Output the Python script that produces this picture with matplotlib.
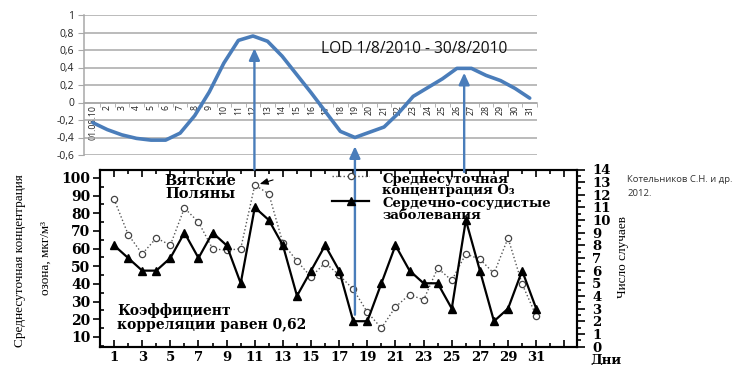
import matplotlib.pyplot as plt
import matplotlib.transforms as mtransforms
from matplotlib.legend_handler import HandlerLine2D

# ---- data ----
days = list(range(1, 32))
top_tick_labels = ["01.08.10"] + [str(d) for d in range(2, 32)]
lod = [-0.23, -0.31, -0.37, -0.41, -0.43, -0.43, -0.35, -0.15, 0.12, 0.45,
       0.71, 0.76, 0.70, 0.53, 0.32, 0.11, -0.11, -0.33, -0.40, -0.34,
       -0.28, -0.12, 0.07, 0.17, 0.27, 0.39, 0.39, 0.31, 0.25, 0.16, 0.05]
lod_ticks = [-0.6, -0.4, -0.2, 0, 0.2, 0.4, 0.6, 0.8, 1]
lod_tick_labels = ["-0,6", "-0,4", "-0,2", "0", "0,2", "0,4", "0,6", "0,8", "1"]

ozone = [88, 68, 57, 66, 62, 83, 75, 60, 59, 60, 96, 91, 63, 53, 44, 52,
         45, 37, 24, 15, 27, 34, 31, 49, 42, 57, 54, 46, 66, 40, 22]
cardio = [8, 7, 6, 6, 7, 9, 7, 9, 8, 5, 11, 10, 8, 4, 6, 8, 6, 2, 2, 5,
          8, 6, 5, 5, 3, 10, 6, 2, 3, 6, 3]
legend_labels = ["Среднесуточная\nконцентрация O₃",
                 "Сердечно-сосудистые\nзаболевания"]

# arrows linking LOD extremes to the lower chart (top-chart day, tip, tail)
arrow_days = [12.1, 19.0, 26.5]
arrow_tips = [0.62, -0.50, 0.34]
arrow_tails = [104.8, 22.6, 103.4]

BLUE = "#4A7DBA"
SANS = ["Open Sans", "DejaVu Sans"]
SERIF = ["DejaVu Serif", "DejaVu Sans"]


class FirstLineHandler(HandlerLine2D):
    # put the legend sample next to the first line of a two-line label
    def __init__(self, shift, **kw):
        super().__init__(**kw)
        self.shift = shift

    def create_artists(self, legend, orig_handle, xdescent, ydescent,
                       width, height, fontsize, trans):
        arts = super().create_artists(legend, orig_handle, xdescent, ydescent,
                                      width, height, fontsize, trans)
        for a in arts:
            a.set_ydata([y + self.shift * fontsize for y in a.get_ydata()])
        return arts


fig = plt.figure(figsize=(7.41, 3.65), dpi=100, facecolor="white")

# ---- top chart: LOD ----
ax_top = fig.add_axes([84 / 741, 1 - 155 / 365, 453 / 741, 140 / 365])
ax_top.plot(days, lod, color=BLUE, lw=2.6, solid_capstyle="round", zorder=3)
ax_top.set_xlim(0.4, 31.35)
ax_top.set_ylim(-0.6, 1)
ax_top.set_yticks(lod_ticks)
ax_top.set_yticklabels(lod_tick_labels, family=SANS, fontsize=7.5, color="#222222")
ax_top.yaxis.grid(True, color="#A8A8A8", lw=1.1)
ax_top.set_axisbelow(True)
for s in ["top", "right"]:
    ax_top.spines[s].set_visible(False)
ax_top.spines["left"].set_color("#A8A8A8")
ax_top.spines["left"].set_linewidth(1.1)
ax_top.spines["bottom"].set_position(("data", 0))
ax_top.spines["bottom"].set_color("#A8A8A8")
ax_top.spines["bottom"].set_linewidth(1.1)
ax_top.set_xticks(days)
ax_top.set_xticklabels(top_tick_labels, rotation=90, family=SANS, fontsize=6.3,
                       color="#222222")
ax_top.set_xticks([d + 0.5 for d in days], minor=True)
ax_top.tick_params(axis="x", which="major", length=0, pad=2)
ax_top.tick_params(axis="x", which="minor", length=3, color="#A8A8A8", direction="out")
ax_top.tick_params(axis="y", length=4, color="#A8A8A8", pad=3)
ax_top.text(23.06, 0.61, "LOD 1/8/2010 - 30/8/2010", family=SANS, fontsize=11.2,
            ha="center", va="center", color="#111111")

# ---- bottom chart: ozone and cardiovascular cases ----
ax_bot = fig.add_axes([100 / 741, 1 - 346.5 / 365, 477 / 741, 177 / 365])
ax_bot.patch.set_alpha(0)
ax_r = ax_bot.twinx()
l_oz, = ax_bot.plot(days, ozone, ls=":", color="#555555", lw=1.0, marker="o",
                    ms=4.5, mfc="white", mec="#444444", mew=0.9)
l_card, = ax_r.plot(days, cardio, "-", color="black", lw=1.6, marker="^", ms=6,
                    mfc="black", mec="black")
ax_bot.set_xlim(0, 33.9)
ax_bot.set_ylim(4.6, 104.8)
ax_r.set_ylim(0, 14)

ax_bot.set_xticks(list(range(1, 34, 2)))
ax_bot.set_xticklabels([str(d) for d in range(1, 32, 2)] + [""],
                       family=SERIF, fontweight="bold", fontsize=9.5)
ax_bot.set_xticks(list(range(0, 34)), minor=True)
ax_bot.set_yticks(list(range(10, 101, 10)))
ax_bot.set_yticklabels([str(v) for v in range(10, 101, 10)],
                       family=SERIF, fontweight="bold", fontsize=10)
ax_bot.set_yticks(list(range(5, 105, 10)), minor=True)
ax_r.set_yticks(list(range(0, 15)))
ax_r.set_yticklabels([str(v) for v in range(0, 15)],
                     family=SERIF, fontweight="bold", fontsize=9.5)
ax_r.set_yticks([v + 0.5 for v in range(0, 14)], minor=True)

ax_bot.tick_params(axis="x", which="both", direction="in", top=True, pad=3,
                   width=1.2)
ax_bot.tick_params(axis="x", which="major", length=5)
ax_bot.tick_params(axis="x", which="minor", length=3)
ax_bot.tick_params(axis="y", which="major", direction="out", length=5,
                   width=1.2, pad=2)
ax_bot.tick_params(axis="y", which="minor", direction="in", length=3, width=1.2)
ax_r.tick_params(axis="y", which="both", direction="out", width=1.2, pad=5)
ax_r.tick_params(axis="y", which="major", length=6)
ax_r.tick_params(axis="y", which="minor", length=3)
for ax in (ax_bot, ax_r):
    for s in ax.spines.values():
        s.set_linewidth(1.5)

leg = ax_r.legend([l_oz, l_card], legend_labels, loc="upper left",
                  bbox_to_anchor=(0.462, 1.05), frameon=False,
                  prop={"family": SERIF, "weight": "bold", "size": 9.5},
                  handlelength=2.8, handletextpad=1.0, labelspacing=0.0,
                  handler_map={l_oz: FirstLineHandler(0.68),
                               l_card: FirstLineHandler(0.72)})
for t in leg.get_texts():
    t.set_linespacing(0.88)

ax_r.text(7.13, 94.5, "Вятские\nПоляны", transform=ax_bot.transData,
          family=SERIF, fontweight="bold", fontsize=10.5, ha="center",
          va="center", linespacing=0.95)
ax_r.annotate("", xy=(11.35, 96.6), xycoords=ax_bot.transData,
              xytext=(12.3, 98.9), textcoords=ax_bot.transData,
              arrowprops=dict(arrowstyle="-|>,head_width=0.2,head_length=0.5",
                              color="black", lw=0.8, shrinkA=0, shrinkB=0))
ax_r.text(1.21, 21.0, "Коэффициент\nкорреляции равен 0,62",
          transform=ax_bot.transData, family=SERIF, fontweight="bold",
          fontsize=10, ha="left", va="center", linespacing=0.95)

# blue arrows from the lower chart up to the LOD curve
link = mtransforms.blended_transform_factory(ax_top.transData, ax_bot.transData)
for x, tip, tail in zip(arrow_days, arrow_tips, arrow_tails):
    ax_r.annotate("", xy=(x, tip), xycoords=ax_top.transData,
                  xytext=(x, tail), textcoords=link,
                  arrowprops=dict(arrowstyle="-|>,head_width=0.32,head_length=0.7",
                                  color=BLUE, lw=1.7, shrinkA=0, shrinkB=0))

# axis titles and notes
fig.text(20 / 741, 1 - 261 / 365, "Среднесуточная концентрация",
         rotation=90, ha="center", va="center", family="Liberation Serif",
         fontsize=9.5)
fig.text(46 / 741, 1 - 258 / 365, "озона, мкг/м³", rotation=90, ha="center",
         va="center", family="Liberation Serif", fontsize=9.5)
fig.text(623 / 741, 1 - 257 / 365, "Число случаев", rotation=90, ha="center",
         va="center", family="Liberation Serif", fontsize=9.5)
fig.text(606 / 741, 1 - 360 / 365, "Дни", ha="center", va="center",
         family=SERIF, fontweight="bold", fontsize=9.5)
fig.text(627 / 741, 1 - 180 / 365, "Котельников С.Н. и др.", ha="left",
         va="center", family=SANS, fontsize=6.8, color="#333333")
fig.text(627 / 741, 1 - 193 / 365, "2012.", ha="left", va="center",
         family=SANS, fontsize=6.8, color="#333333")

fig.savefig("out.png", dpi=100, facecolor="white")
